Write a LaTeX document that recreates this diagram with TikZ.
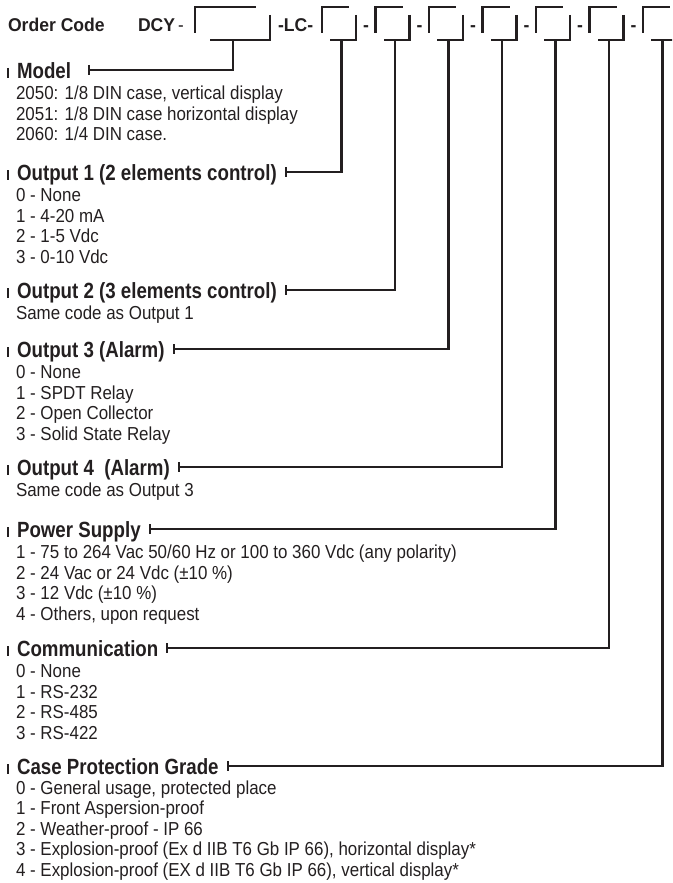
\documentclass[tikz,border=0pt]{standalone}
\usepackage{fontspec}
\setmainfont{Liberation Sans}[FakeStretch=0.9]
\newfontfamily\headfont{Liberation Sans}[FakeStretch=0.85]
\newfontfamily\codefont{Liberation Sans}[FakeStretch=0.95]
\definecolor{ink}{HTML}{231F20}

\begin{document}
\begin{tikzpicture}[x=1pt,y=-1pt,line width=2.1pt,color=ink]
	\tikzstyle{every node}=[inner sep=0pt,anchor=west,text=ink]
	\tikzstyle{headtxt}=[font=\headfont\bfseries\fontsize{22}{24}\selectfont,text height=16pt,text depth=0pt]
	\tikzstyle{itemtxt}=[font=\fontsize{18.8}{20}\selectfont,text height=13pt,text depth=0pt]
	\tikzstyle{codetxt}=[font=\codefont\bfseries\fontsize{18.5}{20}\selectfont,text height=13pt,text depth=0pt]
	\tikzstyle{slot}=[line cap=butt,line join=miter]
	\tikzstyle{link}=[line join=miter]
	\tikzstyle{bar}=[line width=2.2pt]
	
	\useasboundingbox (0,0) rectangle (672,883);
	\clip (0,0) rectangle (672,883);
	
	% order code line
	\node[codetxt] (order) at (7,25) {Order Code};
	\node[codetxt] (dcy) at (137,25) {DCY};
	\node[itemtxt] (dash0) at (177,25) {-};
	\node[codetxt] (lc) at (277,25) {-LC-};
	\node[codetxt] (dash1) at (362,25) {-};
	\node[codetxt] (dash2) at (415.5,25) {-};
	\node[codetxt] (dash3) at (469,25) {-};
	\node[codetxt] (dash4) at (522.5,25) {-};
	\node[codetxt] (dash5) at (576,25) {-};
	\node[codetxt] (dash6) at (629.5,25) {-};
	
	% the code slots
	\draw[slot] (195,33) -- (195,7) -- (256,7);
	\draw[slot] (270,15) -- (270,40) -- (210,40);
	\coordinate (smodel) at (233,40);
	
	\draw[slot] (322,33) -- (322,7) -- (349,7);
	\draw[slot] (356,15) -- (356,40) -- (330,40);
	\coordinate (sout1) at (341.5,40);
	
	\draw[slot] (375.5,33) -- (375.5,7) -- (402.5,7);
	\draw[slot] (409.5,15) -- (409.5,40) -- (383.5,40);
	\coordinate (sout2) at (395,40);
	
	\draw[slot] (429,33) -- (429,7) -- (456,7);
	\draw[slot] (463,15) -- (463,40) -- (437,40);
	\coordinate (sout3) at (448.5,40);
	
	\draw[slot] (482.5,33) -- (482.5,7) -- (509.5,7);
	\draw[slot] (516.5,15) -- (516.5,40) -- (490.5,40);
	\coordinate (sout4) at (502,40);
	
	\draw[slot] (536,33) -- (536,7) -- (563,7);
	\draw[slot] (570,15) -- (570,40) -- (544,40);
	\coordinate (spower) at (555.5,40);
	
	\draw[slot] (589.5,33) -- (589.5,7) -- (616.5,7);
	\draw[slot] (623.5,15) -- (623.5,40) -- (597.5,40);
	\coordinate (scomm) at (609,40);
	
	\draw[slot] (643,33) -- (643,7) -- (670,7);
	\draw[slot] (677,15) -- (677,40) -- (651,40);
	\coordinate (scase) at (662.5,40);
	
	% Model
	\node[headtxt] (model) at (16,70) {Model};
	\draw[bar] (8,68) -- (8,78);
	\coordinate (tmodel) at ([xshift=17pt]model.east);
	\draw[link] (smodel) |- (tmodel);
	\draw (tmodel) ++(0,-5) -- ++(0,10);
	\node[itemtxt] (model1) at (15,93) {2050: 1/8 DIN case, vertical display};
	\node[itemtxt] (model2) at (15,114) {2051: 1/8 DIN case horizontal display};
	\node[itemtxt] (model3) at (15,134) {2060: 1/4 DIN case.};
	
	% Output 1
	\node[headtxt] (outa) at (16,172) {Output 1 (2 elements control)};
	\draw[bar] (8,170) -- (8,180);
	\coordinate (touta) at ([xshift=8pt]outa.east);
	\draw[link] (sout1) |- (touta);
	\draw (touta) ++(0,-5) -- ++(0,10);
	\node[itemtxt] (outa0) at (15,195) {0 - None};
	\node[itemtxt] (outa1) at (15,216) {1 - 4-20 mA};
	\node[itemtxt] (outa2) at (15,236) {2 - 1-5 Vdc};
	\node[itemtxt] (outa3) at (15,257) {3 - 0-10 Vdc};
	
	% Output 2
	\node[headtxt] (outb) at (16,290) {Output 2 (3 elements control)};
	\draw[bar] (8,288) -- (8,298);
	\coordinate (toutb) at ([xshift=8pt]outb.east);
	\draw[link] (sout2) |- (toutb);
	\draw (toutb) ++(0,-5) -- ++(0,10);
	\node[itemtxt] (outb0) at (15,313) {Same code as Output 1};
	
	% Output 3
	\node[headtxt] (outc) at (16,349) {Output 3 (Alarm)};
	\draw[bar] (8,347) -- (8,357);
	\coordinate (toutc) at ([xshift=8pt]outc.east);
	\draw[link] (sout3) |- (toutc);
	\draw (toutc) ++(0,-5) -- ++(0,10);
	\node[itemtxt] (outc0) at (15,372) {0 - None};
	\node[itemtxt] (outc1) at (15,393) {1 - SPDT Relay};
	\node[itemtxt] (outc2) at (15,413) {2 - Open Collector};
	\node[itemtxt] (outc3) at (15,434) {3 - Solid State Relay};
	
	% Output 4
	\node[headtxt] (outd) at (16,467) {Output 4\ \ (Alarm)};
	\draw[bar] (8,465) -- (8,475);
	\coordinate (toutd) at ([xshift=8pt]outd.east);
	\draw[link] (sout4) |- (toutd);
	\draw (toutd) ++(0,-5) -- ++(0,10);
	\node[itemtxt] (outd0) at (15,490) {Same code as Output 3};
	
	% Power Supply
	\node[headtxt] (power) at (16,529) {Power Supply};
	\draw[bar] (8,527) -- (8,537);
	\coordinate (tpower) at ([xshift=8pt]power.east);
	\draw[link] (spower) |- (tpower);
	\draw (tpower) ++(0,-5) -- ++(0,10);
	\node[itemtxt] (power1) at (15,552) {1 - 75 to 264 Vac 50/60 Hz or 100 to 360 Vdc (any polarity)};
	\node[itemtxt] (power2) at (15,573) {2 - 24 Vac or 24 Vdc (±10 \%)};
	\node[itemtxt] (power3) at (15,593) {3 - 12 Vdc (±10 \%)};
	\node[itemtxt] (power4) at (15,614) {4 - Others, upon request};
	
	% Communication
	\node[headtxt] (comm) at (16,648) {Communication};
	\draw[bar] (8,646) -- (8,656);
	\coordinate (tcomm) at ([xshift=8pt]comm.east);
	\draw[link] (scomm) |- (tcomm);
	\draw (tcomm) ++(0,-5) -- ++(0,10);
	\node[itemtxt] (comm0) at (15,671) {0 - None};
	\node[itemtxt] (comm1) at (15,692) {1 - RS-232};
	\node[itemtxt] (comm2) at (15,712) {2 - RS-485};
	\node[itemtxt] (comm3) at (15,733) {3 - RS-422};
	
	% Case Protection Grade
	\node[headtxt] (case) at (16,766) {Case Protection Grade};
	\draw[bar] (8,764) -- (8,774);
	\coordinate (tcase) at ([xshift=8pt]case.east);
	\draw[link] (scase) |- (tcase);
	\draw (tcase) ++(0,-5) -- ++(0,10);
	\node[itemtxt] (case0) at (15,788) {0 - General usage, protected place};
	\node[itemtxt] (case1) at (15,808) {1 - Front Aspersion-proof};
	\node[itemtxt] (case2) at (15,829) {2 - Weather-proof - IP 66};
	\node[itemtxt] (case3) at (15,849) {3 - Explosion-proof (Ex d IIB T6 Gb IP 66), horizontal display*};
	\node[itemtxt] (case4) at (15,870) {4 - Explosion-proof (EX d IIB T6 Gb IP 66), vertical display*};
	
\end{tikzpicture}
\end{document}
